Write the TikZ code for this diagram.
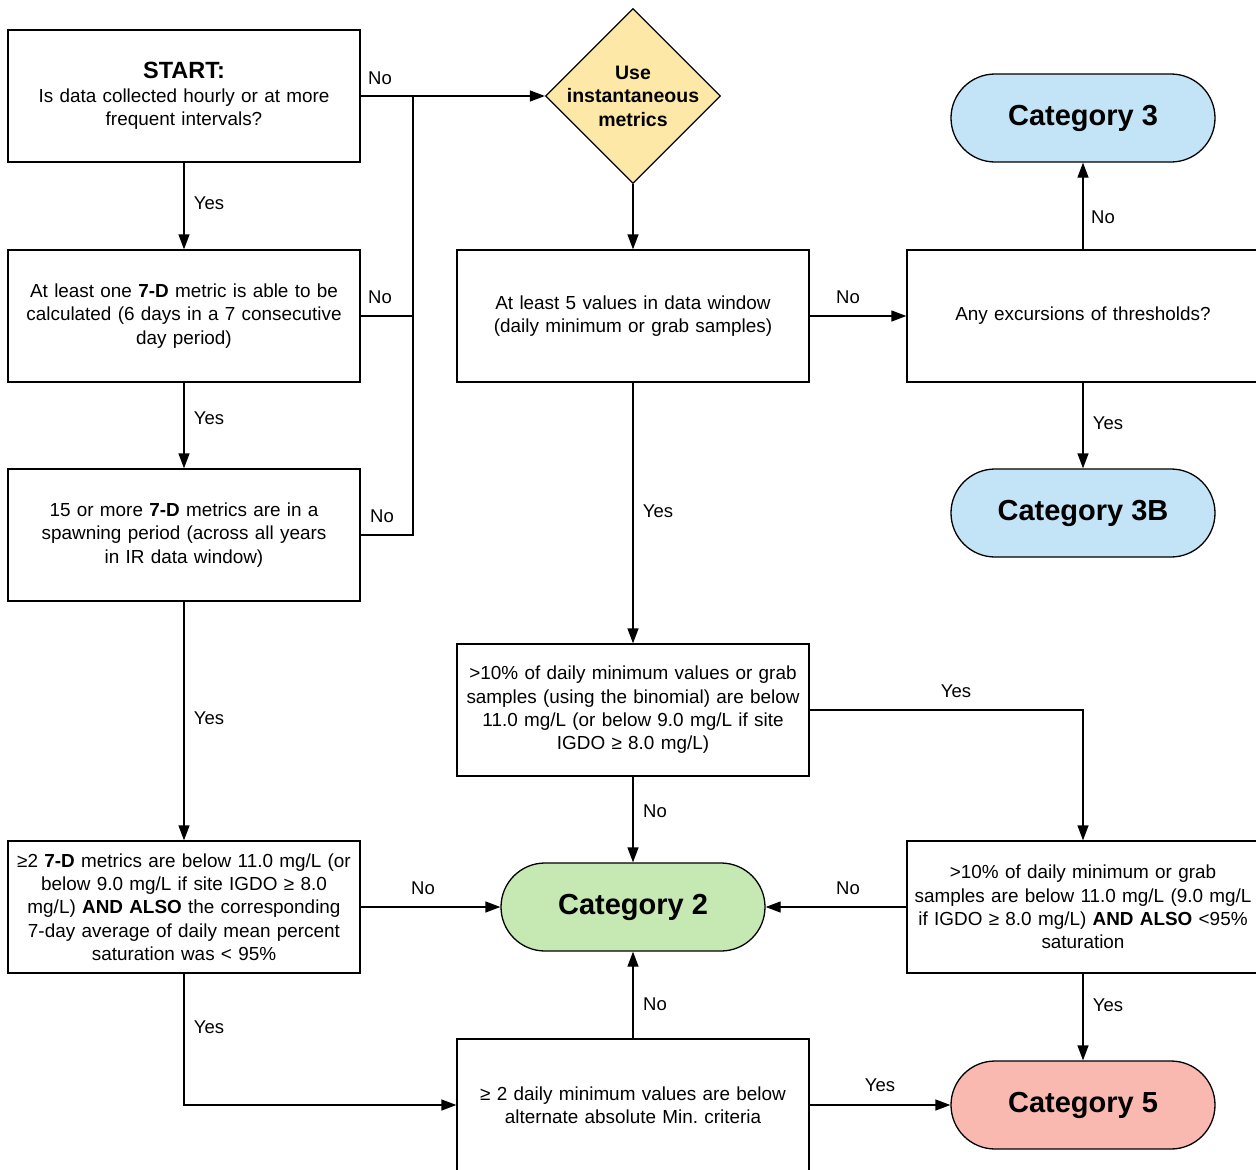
\documentclass[tikz,border=0pt]{standalone}
\usepackage{fontspec}
\setmainfont{Liberation Sans}
\usetikzlibrary{shapes.geometric,shapes.misc,arrows.meta}
\definecolor{diayellow}{HTML}{FDE8A8}
\definecolor{catblue}{HTML}{C3E3F6}
\definecolor{catgreen}{HTML}{C6E8B2}
\definecolor{catred}{HTML}{F9B9B0}
\frenchspacing
\begin{document}
\begin{tikzpicture}[x=1pt,y=-1pt,
  box/.style={draw, line width=1.3pt, minimum width=352pt, minimum height=132pt,
    text width=348pt, align=center, inner sep=0pt, font=\fontsize{18.9}{23.3}\selectfont},
  cat/.style={draw, rounded rectangle, line width=1.3pt, minimum width=264pt,
    minimum height=88pt, inner sep=0pt, font=\fontsize{29}{34}\selectfont\bfseries},
  lbl/.style={font=\fontsize{18.5}{22}\selectfont, inner sep=0pt},
  ln/.style={line width=1.3pt},
  arr/.style={line width=1.3pt, -{Triangle[length=15pt,width=11pt]}}
]
\useasboundingbox (0,0) rectangle (1256,1170);
\clip (0,0) rectangle (1256,1170);

% boxes left column
\node[box] (A) at (184,96) {{\fontsize{23.5}{27}\selectfont\bfseries START:}\\Is data collected hourly or at more\\frequent intervals?};
\node[box] (B) at (184,316) {At least one \textbf{7-D} metric is able to be\\calculated (6 days in a 7 consecutive\\day period)};
\node[box] (C) at (184,535) {15 or more \textbf{7-D} metrics are in a\\spawning period (across all years\\in IR data window)};
\node[box] (D) at (184,907) {≥2 \textbf{7-D} metrics are below 11.0 mg/L (or\\below 9.0 mg/L if site IGDO ≥ 8.0\\mg/L) \textbf{AND ALSO} the corresponding\\7-day average of daily mean percent\\saturation was < 95\%};

% middle column
\node[draw, diamond, line width=1.3pt, fill=diayellow, minimum width=175pt, minimum height=175pt, inner sep=0pt] (dia) at (633,96) {};
\node[align=center, inner sep=0pt, font=\fontsize{19.5}{23.5}\selectfont\bfseries] (diatext) at (dia.center) {Use\\instantaneous\\metrics};
\node[box] (F) at (633,316) {At least 5 values in data window\\(daily minimum or grab samples)};
\node[box] (G) at (633,710) {>10\% of daily minimum values or grab\\samples (using the binomial) are below\\11.0 mg/L (or below 9.0 mg/L if site\\IGDO ≥ 8.0 mg/L)};
\node[cat, fill=catgreen] (cat2) at (633,907) {Category 2};
\node[box] (E) at (633,1105) {≥ 2 daily minimum values are below\\alternate absolute Min. criteria};

% right column
\node[cat, fill=catblue] (cat3) at (1083,118) {Category 3};
\node[box] (H) at (1083,316) {Any excursions of thresholds?};
\node[cat, fill=catblue] (cat3B) at (1083,513) {Category 3B};
\node[box] (I) at (1083,907) {>10\% of daily minimum or grab\\samples are below 11.0 mg/L (9.0 mg/L\\if IGDO ≥ 8.0 mg/L) \textbf{AND ALSO} <95\%\\saturation};
\node[cat, fill=catred] (cat5) at (1083,1105) {Category 5};

% junction coordinates
\coordinate (jA) at (413,96);
\coordinate (jB) at (413,316);
\coordinate (jC) at (413,535);

% connectors
\draw[arr] (A.east) -- (dia.west);
\draw[ln] (B.east) -- (jB);
\draw[ln] (C.east) -- (jC) -- (jA);
\draw[arr] (A.south) -- (B.north);
\draw[arr] (B.south) -- (C.north);
\draw[arr] (C.south) -- (D.north);
\draw[arr] (dia.south) -- (F.north);
\draw[arr] (F.east) -- (H.west);
\draw[arr] (H.north) -- (cat3.south);
\draw[arr] (H.south) -- (cat3B.north);
\draw[arr] (F.south) -- (G.north);
\draw[arr] (G.east) -| (I.north);
\draw[arr] (G.south) -- (cat2.north);
\draw[arr] (D.east) -- (cat2.west);
\draw[arr] (I.west) -- (cat2.east);
\draw[arr] (I.south) -- (cat5.north);
\draw[arr] (D.south) |- (E.west);
\draw[arr] (E.north) -- (cat2.south);
\draw[arr] (E.east) -- (cat5.west);

% labels
\node[lbl] (l1) at (380,78) {No};
\node[lbl] (l2) at (380,297) {No};
\node[lbl] (l3) at (382,516) {No};
\node[lbl] (l4) at (209,203) {Yes};
\node[lbl] (l5) at (209,418) {Yes};
\node[lbl] (l6) at (209,718) {Yes};
\node[lbl] (l7) at (848,297) {No};
\node[lbl] (l8) at (1103,217) {No};
\node[lbl] (l9) at (1108,423) {Yes};
\node[lbl] (l10) at (658,511) {Yes};
\node[lbl] (l11) at (956,691) {Yes};
\node[lbl] (l12) at (655,811) {No};
\node[lbl] (l13) at (423,888) {No};
\node[lbl] (l14) at (848,888) {No};
\node[lbl] (l15) at (1108,1005) {Yes};
\node[lbl] (l16) at (209,1027) {Yes};
\node[lbl] (l17) at (655,1004) {No};
\node[lbl] (l18) at (880,1085) {Yes};
\end{tikzpicture}
\end{document}
